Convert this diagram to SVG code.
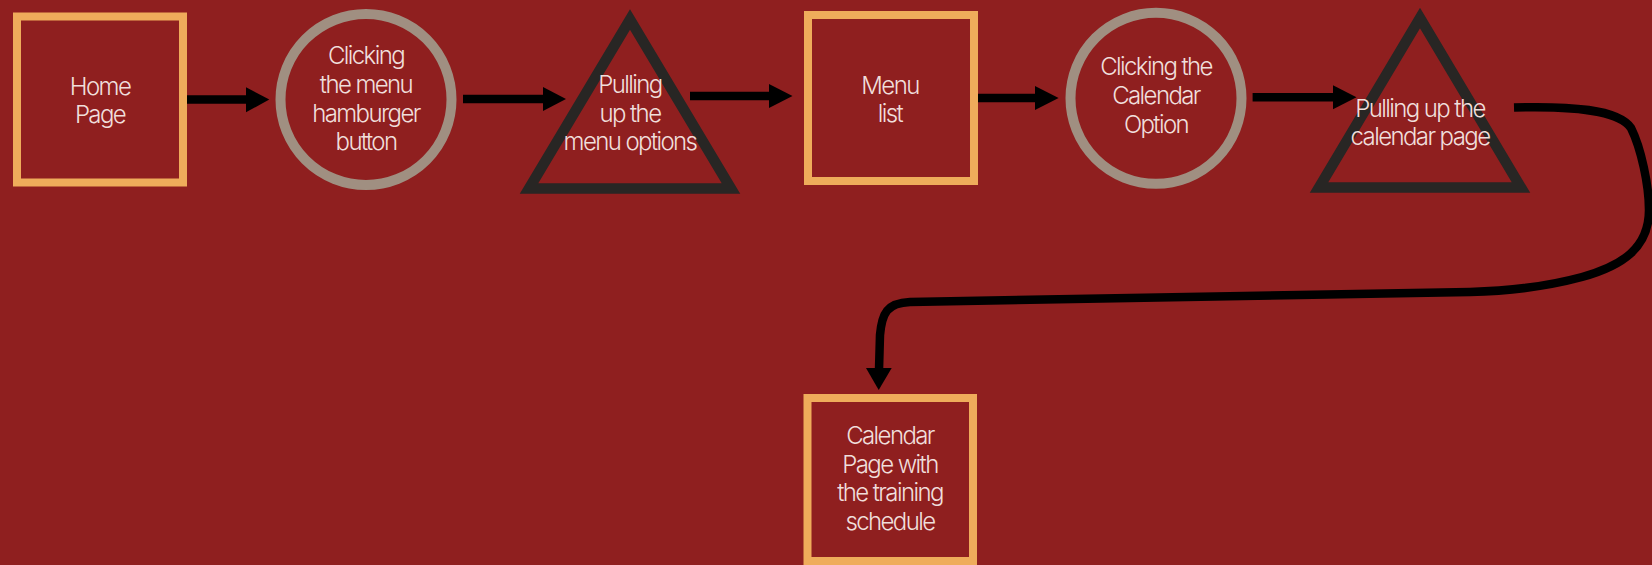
<svg xmlns="http://www.w3.org/2000/svg" width="1652" height="565" viewBox="0 0 1652 565">
<defs>
<style>
.bg{fill:#8f1f1f}
.box{fill:none;stroke:#efac5b;stroke-width:8}
.circ{fill:none;stroke:#a08f81;stroke-width:10}
.tri{fill:none;stroke:#282624;stroke-width:10.5;stroke-linejoin:miter;stroke-miterlimit:10}
.lbl{font-family:Inter,"Liberation Sans",sans-serif;font-weight:300;font-size:24px;fill:#f0dedb;text-anchor:middle;letter-spacing:-1.6px}
.conn{fill:none;stroke:#000;stroke-width:8.5}
.head{fill:#000}
</style>
</defs>
<rect class="bg" x="0" y="0" width="1652" height="565"/>
<g id="connectors">
<line class="conn" x1="187" y1="99.5" x2="248" y2="99.5"/>
<polygon class="head" points="246,87.3 269.3,99.5 246,112.3"/>
<line class="conn" x1="463" y1="99" x2="545" y2="99"/>
<polygon class="head" points="543,87 566,99 543,111"/>
<line class="conn" x1="690" y1="96" x2="771" y2="96"/>
<polygon class="head" points="769,84 792.5,96 769,108"/>
<line class="conn" x1="978" y1="98" x2="1037" y2="98"/>
<polygon class="head" points="1035,86 1058.6,98 1035,110"/>
<line class="conn" x1="1252.6" y1="97.3" x2="1335" y2="97.3"/>
<polygon class="head" points="1333,85.3 1356.5,97.3 1333,109.3"/>
<path class="conn" stroke-width="7.5" d="M1514,107.5 C1570,106 1618,109 1631,128 C1641,148 1649,185 1649,210 C1649,248 1622,266 1582,277 C1545,287 1510,291 1470,292 L910,302 C887,303 882,313 880,335 L879,370"/>
<polygon class="head" points="866,368 891.7,368 878.7,390"/>
</g>
<g id="home">
<rect class="box" x="17" y="16.5" width="166" height="166"/>
<text class="lbl" x="100" y="95">Home</text>
<text class="lbl" x="100" y="122.5">Page</text>
</g>
<g id="click-menu">
<circle class="circ" cx="366" cy="99.5" r="85.5"/>
<text class="lbl" x="366" y="64">Clicking</text>
<text class="lbl" x="366" y="92.7">the menu</text>
<text class="lbl" x="366" y="121.5">hamburger</text>
<text class="lbl" x="366" y="150">button</text>
</g>
<g id="pull-menu">
<polygon class="tri" points="630,19.5 731,188.5 529,188.5"/>
<text class="lbl" x="630" y="92.7">Pulling</text>
<text class="lbl" x="630" y="121.5">up the</text>
<text class="lbl" x="630" y="150">menu options</text>
</g>
<g id="menu-list">
<rect class="box" x="808" y="15" width="166" height="166"/>
<text class="lbl" x="890" y="94">Menu</text>
<text class="lbl" x="890" y="121.7">list</text>
</g>
<g id="click-calendar">
<circle class="circ" cx="1156" cy="98.3" r="85.5"/>
<text class="lbl" x="1156" y="75">Clicking the</text>
<text class="lbl" x="1156" y="104">Calendar</text>
<text class="lbl" x="1156" y="132.7">Option</text>
</g>
<g id="pull-calendar">
<polygon class="tri" points="1420,18 1521,187.5 1319,187.5"/>
<text class="lbl" x="1420" y="116.7">Pulling up the</text>
<text class="lbl" x="1420" y="145">calendar page</text>
</g>
<g id="calendar-page">
<rect class="box" x="807.5" y="398" width="165.5" height="163"/>
<text class="lbl" x="890" y="444">Calendar</text>
<text class="lbl" x="890" y="472.7">Page with</text>
<text class="lbl" x="890" y="500.7">the training</text>
<text class="lbl" x="890" y="530">schedule</text>
</g>
</svg>
